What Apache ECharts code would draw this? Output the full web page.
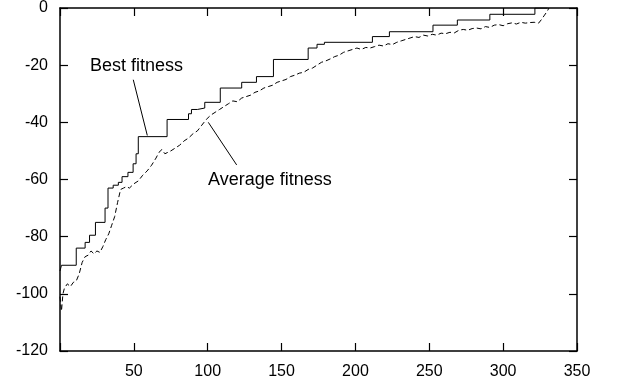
<!DOCTYPE html>
<html>
<head>
<meta charset="utf-8">
<script src="https://cdn.jsdelivr.net/npm/echarts@6/dist/echarts.min.js"></script>
<style>
  html, body { margin: 0; padding: 0; background: #fff; }
  #main { width: 617px; height: 388px; }
</style>
</head>
<body>
<div id="main"></div>
<script>
// best fitness: [generation, fitness] where a new level starts
var bestX = [0, 1, 11, 17, 20, 24, 30.5, 32.5, 36, 39.5, 42, 46, 49.5, 51.5, 53, 72.5, 87, 89, 93, 98,
  108.5, 123, 133, 144.5, 168, 174, 179, 211.5, 223, 252.5, 269, 291, 321.5, 330];
var bestY = [-92, -90, -84, -82, -79.5, -75, -70, -63, -62, -61, -59, -57.5, -54.5, -51, -45, -39, -37, -35.5, -35, -33,
  -28, -26, -24, -18, -14, -12.7, -12, -10, -8.3, -6, -4.2, -2.2, 0, 0];

// average fitness
var avgX = [0, 1, 2, 3, 5, 7, 9, 11, 13, 15, 17, 19, 21, 23, 25, 27, 29, 31, 33, 35, 37, 39, 41, 43, 45, 47,
  50, 53, 56, 59, 62, 65, 67, 69, 71, 73, 75, 78, 81, 84, 87, 90, 93, 96, 99, 102, 105, 108, 111, 114, 117,
  120, 123, 126, 129, 132, 135, 138, 141, 144, 147, 150, 153, 156, 159, 162, 165, 168, 171, 174, 177, 180,
  183, 186, 189, 192, 195, 198, 201, 204, 207, 210, 213, 216, 219, 222, 225, 228, 231, 234, 237, 240, 243,
  246, 249, 252, 255, 258, 261, 264, 267, 270, 273, 276, 279, 282, 285, 288, 291, 294, 297, 300, 303, 306,
  309, 312, 315, 318, 321, 324, 326, 328, 330, 331];
var avgY = [-101, -106, -100, -98, -96.5, -97.5, -96, -95.5, -93, -89, -87, -86.5, -85, -86, -85, -85.5, -83.5,
  -81, -79, -76, -73, -68, -63.5, -63, -62.5, -63, -61.5, -60.5, -58.5, -57, -55, -52.5, -50.5, -49.5, -51,
  -50.5, -50, -49, -48, -46.5, -45.5, -44, -43, -41, -39, -37.5, -36.5, -35.5, -34.5, -33.5, -32.5, -32.8,
  -31.5, -31, -30.5, -29.5, -29, -28, -27.5, -27, -26, -25.5, -25, -24, -23.5, -22.8, -22.5, -21.5, -21, -20,
  -19, -18.5, -17.8, -17, -16.5, -15.5, -15, -14.5, -14, -14.5, -13.8, -14, -13.5, -13, -13.3, -12.5, -12.8,
  -12, -11.5, -11, -10.5, -10, -10.3, -9.5, -9.8, -9.2, -9.5, -8.8, -9, -8.5, -8.7, -7.8, -7.5, -7.8, -7.2, -7,
  -7.3, -6.5, -6.8, -6, -5.8, -6.2, -5.5, -5.2, -5.6, -5, -5.3, -5.1, -5, -5.3, -4, -2.5, -1, 0];

var xTicks = [0, 350, 50];
var yTicks = [-120, 0, 20];

function pairs(xs, ys) {
  return xs.map(function (x, i) { return [x, ys[i]]; });
}

var font = '"Liberation Sans", Arial, sans-serif';

function makeAxis(type, pos, ticks, label) {
  return {
    type: 'value', min: ticks[0], max: ticks[1], interval: ticks[2],
    position: pos,
    axisLine: { show: true, onZero: false, lineStyle: { color: '#000', width: 1.5 } },
    axisTick: { show: true, inside: true, length: 8, lineStyle: { color: '#000', width: 1.2 } },
    splitLine: { show: false },
    axisLabel: label
  };
}

var myChart = echarts.init(document.getElementById('main'));

myChart.setOption({
  animation: false,
  backgroundColor: '#fff',
  grid: { left: 60, right: 40, top: 7, bottom: 37 },
  xAxis: [
    makeAxis('x', 'bottom', xTicks, {
      color: '#000', fontSize: 16, fontFamily: font, margin: 13,
      formatter: function (v) { return v === 0 ? '' : v; }
    }),
    makeAxis('x', 'top', xTicks, { show: false })
  ],
  yAxis: [
    makeAxis('y', 'left', yTicks, { color: '#000', fontSize: 16, fontFamily: font, margin: 12 }),
    makeAxis('y', 'right', yTicks, { show: false })
  ],
  series: [
    {
      name: 'Best fitness',
      type: 'line',
      step: 'end',
      data: pairs(bestX, bestY),
      showSymbol: false,
      lineStyle: { color: '#000', width: 1 },
      markLine: {
        silent: true, symbol: 'none',
        lineStyle: { color: '#000', width: 1, type: 'solid' },
        label: { show: false },
        data: [[{ coord: [49.6, -25.1] }, { coord: [59.1, -44.6] }]]
      },
      markPoint: {
        silent: true, symbol: 'circle', symbolSize: 0,
        label: { show: true, position: 'right', distance: 0, color: '#000', fontSize: 18, fontFamily: font },
        data: [{ coord: [20.3, -20.2], label: { formatter: 'Best fitness' } }]
      }
    },
    {
      name: 'Average fitness',
      type: 'line',
      data: pairs(avgX, avgY),
      showSymbol: false,
      lineStyle: { color: '#000', width: 1, type: [5, 3] },
      markLine: {
        silent: true, symbol: 'none',
        lineStyle: { color: '#000', width: 1, type: 'solid' },
        label: { show: false },
        data: [[{ coord: [100.4, -40] }, { coord: [119.6, -54.9] }]]
      },
      markPoint: {
        silent: true, symbol: 'circle', symbolSize: 0,
        label: { show: true, position: 'right', distance: 0, color: '#000', fontSize: 18, fontFamily: font },
        data: [{ coord: [100.2, -60.3], label: { formatter: 'Average fitness' } }]
      }
    },
    {
      // keeps the mirrored top / right axes alive
      type: 'line', xAxisIndex: 1, yAxisIndex: 1, data: [], silent: true
    }
  ]
});
</script>
</body>
</html>
